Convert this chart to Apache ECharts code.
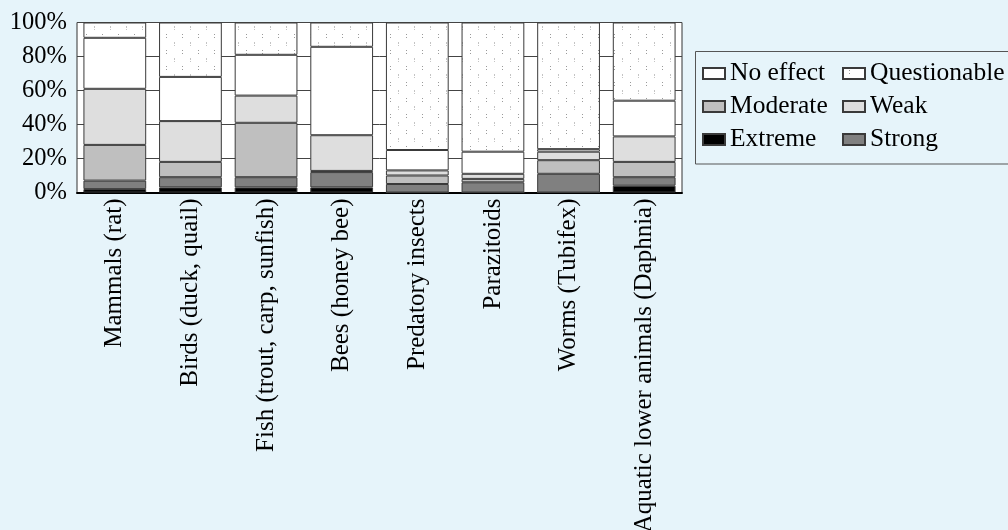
<!DOCTYPE html>
<html>
<head>
<meta charset="utf-8">
<script src="https://cdn.jsdelivr.net/npm/echarts@6/dist/echarts.min.js"></script>
<style>
  html, body { margin: 0; padding: 0; background: #e6f4fa; }
  #chart { width: 1008px; height: 530px; }
</style>
</head>
<body>
<div id="chart"></div>
<script>
// Groups of test organisms
const categories = [
  'Mammals (rat)',
  'Birds (duck, quail)',
  'Fish (trout, carp, sunfish)',
  'Bees (honey bee)',
  'Predatory insects',
  'Parazitoids',
  'Worms (Tubifex)',
  'Aquatic lower animals (Daphnia)'
];

// Share of substances (%) in each effect class, stacked from the bottom
const extreme      = [2, 3, 3, 3, 0, 0, 0, 4];
const strong       = [5, 6, 6, 9, 5, 6, 11, 5];
const moderate     = [21, 9, 32, 0.7, 5, 2, 8, 9];
const weak         = [33, 24, 16, 21, 3, 3, 5, 15];
const noEffect     = [30, 26, 24, 52, 12, 13, 1.5, 21];
const questionable = [9, 32, 19, 14.3, 75, 76, 74.5, 46];

const yTicks = [0, 20, 40, 60, 80, 100];

const FONT = '"Liberation Serif", "Times New Roman", serif';

// Dotted tile used as the fill for "Questionable"
function dotTile() {
  const c = document.createElement('canvas');
  c.width = 16; c.height = 16;
  const g = c.getContext('2d');
  g.fillStyle = '#ffffff';
  g.fillRect(0, 0, 16, 16);
  g.fillStyle = '#9a9a9a';
  g.fillRect(6, 2, 1, 1);
  g.fillRect(6, 5, 1, 1);
  g.fillStyle = '#c4c4c4';
  g.fillRect(14, 10, 1, 2);
  g.fillRect(14, 13, 1, 1);
  return c;
}

const edge = { borderColor: '#3a3a3a', borderWidth: 1 };

const seriesDefs = [
  { name: 'Extreme',      data: extreme,      color: '#000000' },
  { name: 'Strong',       data: strong,       color: '#808080' },
  { name: 'Moderate',     data: moderate,     color: '#bfbfbf' },
  { name: 'Weak',         data: weak,         color: '#dedede' },
  { name: 'No effect',    data: noEffect,     color: '#ffffff' },
  { name: 'Questionable', data: questionable, color: { image: dotTile(), repeat: 'repeat' } }
];

const chart = echarts.init(document.getElementById('chart'), null, { renderer: 'canvas' });

const legendCommon = {
  orient: 'vertical',
  top: 60.5,
  padding: 0,
  itemWidth: 22,
  itemHeight: 11,
  itemGap: 7,
  icon: 'rect',
  selectedMode: false,
  textStyle: { fontFamily: FONT, fontSize: 25.5, lineHeight: 26, color: '#000' }
};

chart.setOption({
  backgroundColor: '#e6f4fa',
  animation: false,
  grid: {
    left: 77, right: 326, top: 22.5, bottom: 337.5,
    outerBoundsMode: 'none',
    containLabel: false,
    show: true, backgroundColor: '#ffffff',
    borderColor: '#333333', borderWidth: 1
  },
  legend: [
    Object.assign({ left: 702, data: ['No effect', 'Moderate', 'Extreme'] }, legendCommon),
    Object.assign({ left: 842, data: ['Questionable', 'Weak', 'Strong'] }, legendCommon)
  ],
  graphic: [{
    type: 'rect',
    shape: { x: 695.5, y: 51.5, width: 330, height: 112.5 },
    style: { fill: 'none', stroke: '#555555', lineWidth: 1 },
    silent: true
  }],
  xAxis: {
    type: 'category',
    data: categories,
    axisLine: { show: true, lineStyle: { color: '#000', width: 2 } },
    axisTick: { show: false },
    axisLabel: {
      rotate: 90, interval: 0, margin: 6,
      fontFamily: FONT, fontSize: 25, color: '#000'
    }
  },
  yAxis: {
    type: 'value',
    min: yTicks[0], max: yTicks[yTicks.length - 1], interval: yTicks[1] - yTicks[0],
    axisLine: { show: false },
    axisTick: { show: false },
    splitLine: { show: true, lineStyle: { color: '#444444', width: 1 } },
    axisLabel: {
      margin: 10, formatter: '{value}%',
      fontFamily: FONT, fontSize: 24.5, color: '#000'
    }
  },
  series: seriesDefs.map(s => ({
    name: s.name,
    type: 'bar',
    stack: 'all',
    barCategoryGap: '17%',
    data: s.data,
    itemStyle: Object.assign({ color: s.color }, edge)
  }))
});
</script>
</body>
</html>
